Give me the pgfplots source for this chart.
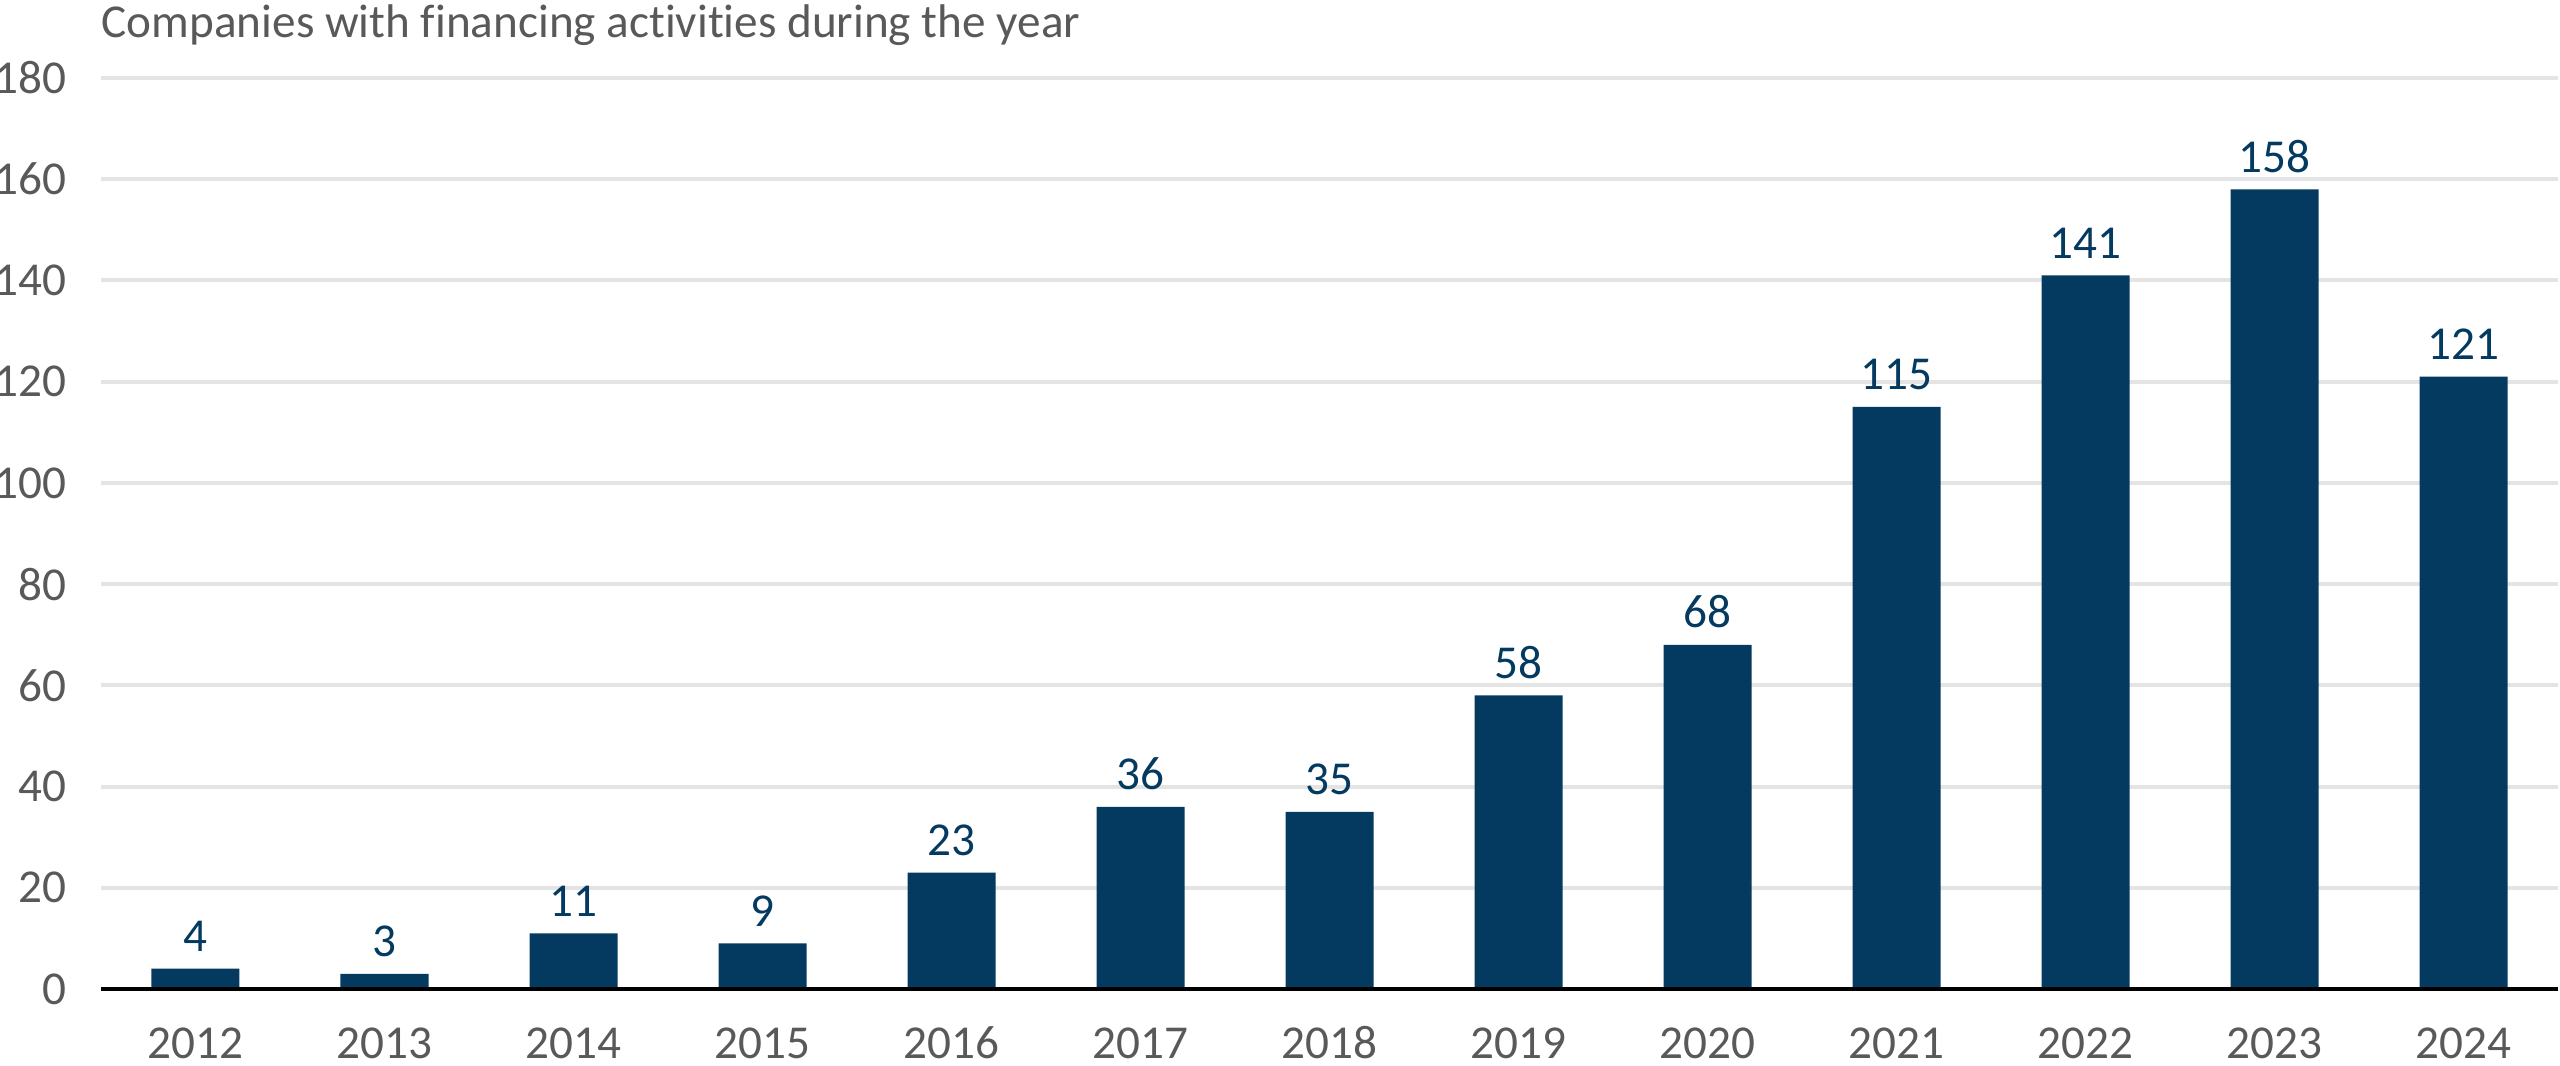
\documentclass[border=0pt]{standalone}
\usepackage{fontspec}
\setmainfont{Carlito}[Ligatures=NoCommon]
\usepackage{pgfplots}
\pgfplotsset{compat=1.18}
\definecolor{barc}{HTML}{043A5F}
\definecolor{txt}{HTML}{595959}
\definecolor{gridc}{HTML}{E4E4E4}
\begin{document}
\begin{tikzpicture}
\useasboundingbox (0,0) rectangle (640pt,266.5pt);
\node[anchor=base west, inner sep=0, text=txt, font=\fontsize{11.8}{14}\selectfont] at (25.25pt,257pt) {Companies with financing activities during the year};
\begin{axis}[
  at={(25.25pt,19.25pt)}, anchor=south west,
  scale only axis, width=614.25pt, height=227.75pt,
  xmin=-0.5, xmax=12.5, ymin=0, ymax=180,
  ytick={0,20,...,180},
  xtick={0,...,12},
  xticklabels={2012,2013,2014,2015,2016,2017,2018,2019,2020,2021,2022,2023,2024},
  axis line style={draw=none},
  major tick length=0pt,
  ymajorgrids, grid style={gridc, line width=1pt},
  ybar, bar width=22pt,
  tick label style={text=txt, font=\fontsize{11.8}{14}\selectfont, inner sep=0pt},
  /pgf/number format/assume math mode=true,
  yticklabel style={anchor=east, xshift=-8.5pt},
  xticklabel style={anchor=center, yshift=-13.5pt},
  nodes near coords,
  nodes near coords style={text=barc, font=\fontsize{11.8}{14}\selectfont, inner sep=0pt, anchor=south, yshift=4pt},
  clip=false,
]
\addplot[fill=barc, draw=none] coordinates {(0,4) (1,3) (2,11) (3,9) (4,23) (5,36) (6,35) (7,58) (8,68) (9,115) (10,141) (11,158) (12,121)};
\draw[black, line width=1pt] (axis cs:-0.5,0) -- (axis cs:12.5,0);
\end{axis}
\end{tikzpicture}
\end{document}
